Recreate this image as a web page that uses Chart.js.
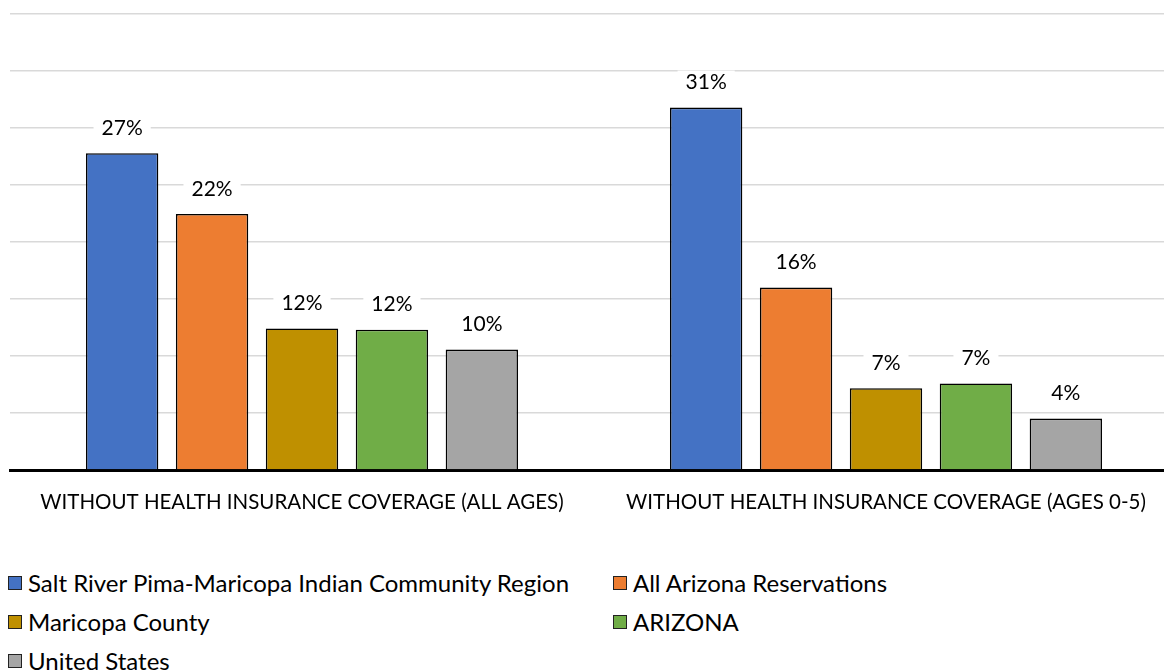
<!DOCTYPE html>
<html>
<head>
<meta charset="utf-8">
<script src="https://cdn.jsdelivr.net/npm/chart.js@4"></script>
<style>
    html, body { margin: 0; padding: 0; background: #fff; overflow: hidden; }
    body { width: 1164px; height: 671px; position: relative; }
    #wrap { position: absolute; left: 0; top: 0; width: 1178px; height: 530px; }
    #legend {
        position: absolute; left: 8px; top: 570px; width: 1150px;
        display: grid; grid-template-columns: 605px 540px; row-gap: 14px;
        font-family: Lato, sans-serif; font-size: 24px; color: #000;
    }
    .item { display: flex; align-items: center; height: 25px; line-height: 25px; }
    .box { width: 14px; height: 14px; border: 1.5px solid #222; margin-right: 6px; box-sizing: border-box; }
</style>
</head>
<body>
<div id="wrap"><canvas id="chart"></canvas></div>
<div id="legend"></div>
<script>
    "use strict";

    // Data
    var categories = ["WITHOUT HEALTH INSURANCE COVERAGE (ALL AGES)", "WITHOUT HEALTH INSURANCE COVERAGE (AGES 0-5)"];
    var seriesNames = ["Salt River Pima-Maricopa Indian Community Region", "All Arizona Reservations", "Maricopa County", "ARIZONA", "United States"];
    var saltRiver = [27.1, 31.0];
    var allReservations = [21.9, 15.6];
    var maricopa = [12.1, 7.0];
    var arizona = [12.0, 7.4];
    var unitedStates = [10.3, 4.4];
    var colors = ["#4472C4", "#ED7D31", "#BF9000", "#70AD47", "#A5A5A5"];
    var yMax = 39;

    var seriesValues = [saltRiver, allReservations, maricopa, arizona, unitedStates];
    var font = "Lato, sans-serif";

    // Value labels with a white background that breaks the gridlines
    var valueLabels = {
        id: "valueLabels",
        afterDatasetsDraw: function (chart) {
            var ctx = chart.ctx;
            ctx.save();
            ctx.font = "21px " + font;
            ctx.textAlign = "center";
            ctx.textBaseline = "middle";
            chart.data.datasets.forEach(function (ds, i) {
                chart.getDatasetMeta(i).data.forEach(function (bar, j) {
                    var text = Math.round(ds.data[j]) + "%";
                    var w = ctx.measureText(text).width;
                    var y = bar.y - 25;
                    ctx.fillStyle = "#fff";
                    ctx.fillRect(bar.x - w / 2 - 8, y - 12, w + 16, 24);
                    ctx.fillStyle = "#000";
                    ctx.fillText(text, bar.x, y);
                });
            });
            ctx.restore();
        }
    };

    var datasets = seriesValues.map(function (vals, i) {
        return {
            label: seriesNames[i],
            data: vals,
            backgroundColor: colors[i],
            borderColor: "#000",
            borderWidth: 1.6,
            categoryPercentage: 0.77,
            barPercentage: 0.805
        };
    });

    new Chart(document.getElementById("chart"), {
        type: "bar",
        data: { labels: categories, datasets: datasets },
        options: {
            responsive: true,
            maintainAspectRatio: false,
            animation: false,
            layout: { padding: { left: 10, top: 14, right: 0, bottom: 0 } },
            plugins: { legend: { display: false }, tooltip: { enabled: false } },
            scales: {
                x: {
                    grid: { display: false },
                    border: { color: "#000", width: 3 },
                    ticks: { color: "#000", font: { family: font, size: 20.5 }, padding: 12 },
                    afterFit: function (s) { s.height = 60; }
                },
                y: {
                    min: 0,
                    max: yMax,
                    ticks: { display: false, stepSize: yMax / 8 },
                    border: { display: false },
                    grid: { color: "#d9d9d9", lineWidth: 1.5, drawTicks: false },
                    afterFit: function (s) { s.width = 0; }
                }
            }
        },
        plugins: [valueLabels]
    });

    // Legend
    var legend = document.getElementById("legend");
    seriesNames.forEach(function (name, i) {
        var item = document.createElement("div");
        item.className = "item";
        item.innerHTML = '<span class="box" style="background:' + colors[i] + '"></span><span>' + name + '</span>';
        legend.appendChild(item);
    });
</script>
</body>
</html>
